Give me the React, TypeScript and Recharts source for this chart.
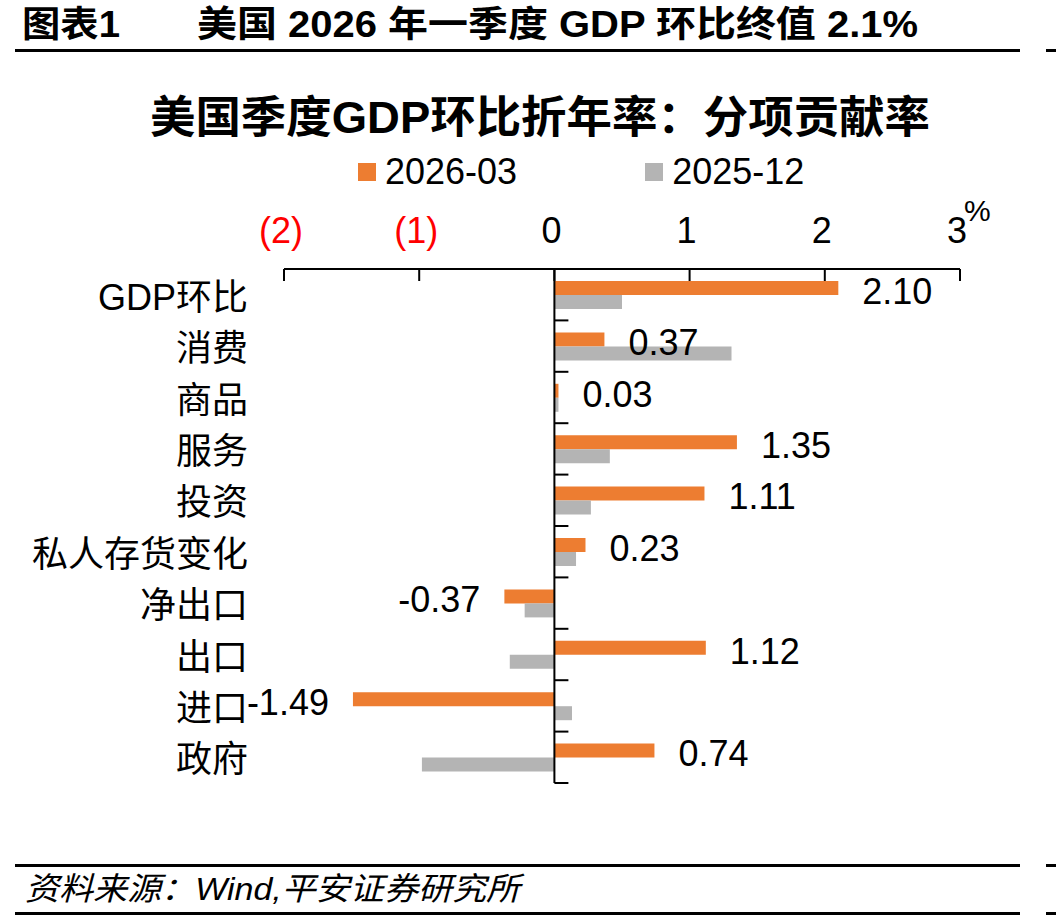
import React from 'react';
import {
  BarChart,
  Bar,
  XAxis,
  YAxis,
  Legend,
  LabelList,
  ReferenceLine,
} from 'recharts';

const categories = ['GDP环比', '消费', '商品', '服务', '投资', '私人存货变化', '净出口', '出口', '进口', '政府'];
const q1_2026 = [2.1, 0.37, 0.03, 1.35, 1.11, 0.23, -0.37, 1.12, -1.49, 0.74];
const q4_2025 = [0.5, 1.31, 0.03, 0.41, 0.27, 0.16, -0.22, -0.33, 0.13, -0.98];
const xTicks = [-2, -1, 0, 1, 2, 3];
const seriesNames = ['2026-03', '2025-12'];

const COLORS = ['#ED7D31', '#B4B4B4'];
const FONT = '"Liberation Sans", Arial, "Noto Sans CJK SC", sans-serif';

const data = categories.map((name, i) => ({
  name,
  cur: q1_2026[i],
  prev: q4_2025[i],
}));

// top axis tick: label above, small tick hanging below the axis line
function TopTick(props: any) {
  const { x, y, payload } = props;
  const v = payload.value as number;
  const neg = v < 0;
  return (
    <g>
      <line x1={x} y1={y} x2={x} y2={y + 12} stroke="#000" strokeWidth={2} />
      <text x={x - 3} y={y - 26} textAnchor="middle" fontSize={36} fontFamily={FONT} fill={neg ? '#FF0000' : '#000'}>
        {neg ? `(${-v})` : `${v}`}
      </text>
      {v === xTicks[xTicks.length - 1] && (
        <text x={x + 4} y={y - 48} fontSize={30} fontFamily={FONT} fill="#000">
          %
        </text>
      )}
    </g>
  );
}

function CategoryTick(props: any) {
  const { x, y, payload } = props;
  return (
    <text x={x} y={y} dy={15} textAnchor="end" fontSize={36} fontFamily={FONT} fill="#000">
      {payload.value}
    </text>
  );
}

// vertical axis at zero with tick marks on category boundaries
function ZeroAxis(props: any) {
  const { x1, y1, y2 } = props;
  const n = categories.length;
  const marks = Array.from({ length: n + 1 }, (_, i) => y1 + ((y2 - y1) * i) / n);
  return (
    <g>
      <line x1={x1} y1={y1} x2={x1} y2={y2} stroke="#000" strokeWidth={2} />
      {marks.map((my, i) => (
        <line key={i} x1={x1} y1={my} x2={x1 + 14} y2={my} stroke="#000" strokeWidth={2} />
      ))}
    </g>
  );
}

function LegendContent() {
  return (
    <div style={{ display: 'flex', alignItems: 'center', paddingLeft: 358, fontFamily: FONT, fontSize: 36, color: '#000' }}>
      {seriesNames.map((s, i) => (
        <div key={s} style={{ display: 'flex', alignItems: 'center', marginRight: 128 }}>
          <span style={{ width: 18, height: 18, background: COLORS[i], display: 'inline-block', marginRight: 9 }} />
          <span>{s}</span>
        </div>
      ))}
    </div>
  );
}

export default function App() {
  return (
    <div style={{ position: 'absolute', left: 0, top: 0, width: 1056, height: 921, background: '#fff' }}>
      <BarChart
        width={1056}
        height={921}
        data={data}
        layout="vertical"
        margin={{ top: 209, right: 96, bottom: 138, left: 38 }}
        barSize={14}
        barGap={0}
      >
        <XAxis
          type="number"
          orientation="top"
          domain={[-2, 3]}
          ticks={xTicks}
          height={60}
          axisLine={{ stroke: '#000', strokeWidth: 2 }}
          tickLine={false}
          tickSize={0}
          tickMargin={0}
          tick={<TopTick />}
          allowDataOverflow
        />
        <YAxis
          type="category"
          dataKey="name"
          width={246}
          axisLine={false}
          tickLine={false}
          tickSize={0}
          tickMargin={36}
          interval={0}
          tick={<CategoryTick />}
        />
        <Legend
          layout="horizontal"
          verticalAlign="middle"
          align="center"
          content={<LegendContent />}
          wrapperStyle={{ top: 151, left: 0, width: 1056 }}
        />
        <Bar dataKey="cur" name={seriesNames[0]} fill={COLORS[0]} isAnimationActive={false}>
          <LabelList
            dataKey="cur"
            position="right"
            offset={24}
            dy={3}
            formatter={(v: any) => Number(v).toFixed(2)}
            style={{ fontSize: 36, fill: '#000', fontFamily: FONT }}
          />
        </Bar>
        <Bar dataKey="prev" name={seriesNames[1]} fill={COLORS[1]} isAnimationActive={false} />
        <ReferenceLine x={0} shape={<ZeroAxis />} />
      </BarChart>

      <svg width={1056} height={921} style={{ position: 'absolute', left: 0, top: 0, pointerEvents: 'none' }}>
        <g fontFamily={FONT} fill="#000">
          <text x={22} y={37} fontSize={36} fontWeight="bold" textLength={98} lengthAdjust="spacingAndGlyphs">
            图表1
          </text>
          <text x={197} y={37} fontSize={36} fontWeight="bold" textLength={721} lengthAdjust="spacingAndGlyphs">
            美国 2026 年一季度 GDP 环比终值 2.1%
          </text>
          <text x={150} y={133} fontSize={44} fontWeight="bold" textLength={780} lengthAdjust="spacingAndGlyphs">
            美国季度GDP环比折年率：分项贡献率
          </text>
          <text x={25} y={900} fontSize={32} fontStyle="italic" textLength={495} lengthAdjust="spacingAndGlyphs">
            资料来源：Wind,平安证券研究所
          </text>
        </g>
        <rect x={15} y={49} width={1005} height={3} fill="#000" />
        <rect x={1046} y={49} width={10} height={3} fill="#000" />
        <rect x={15} y={864} width={1005} height={3} fill="#000" />
        <rect x={1046} y={864} width={10} height={3} fill="#000" />
        <rect x={15} y={912} width={1005} height={3} fill="#000" />
        <rect x={1046} y={912} width={10} height={3} fill="#000" />
      </svg>
    </div>
  );
}
